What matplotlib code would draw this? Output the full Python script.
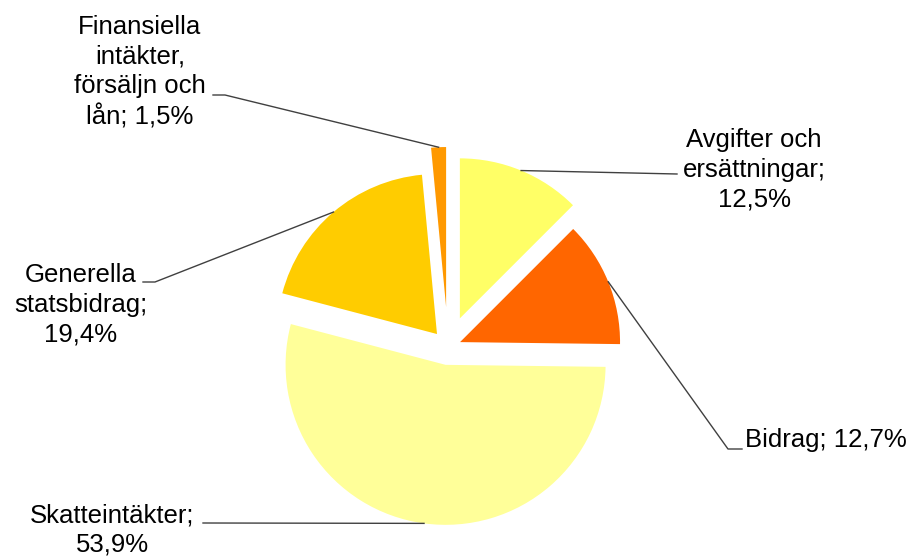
import math
import matplotlib
matplotlib.use("Agg")
import matplotlib.pyplot as plt

plt.rcParams["font.family"] = ["Liberation Sans", "DejaVu Sans"]

W, H = 916, 559

# data, clockwise from the top
labels = ["Avgifter och\nersättningar;\n12,5%", "Bidrag; 12,7%", "Skatteintäkter;\n53,9%",
          "Generella\nstatsbidrag;\n19,4%", "Finansiella\nintäkter,\nförsäljn och\nlån; 1,5%"]
shares = [12.5, 12.7, 53.9, 19.4, 1.5]
colors = ["#FFFF66", "#FF6600", "#FFFF99", "#FFCC00", "#FF9900"]
explode = [31, 13, 18, 17, 40]

fig = plt.figure(figsize=(W / 100, H / 100), dpi=100)
ax = fig.add_axes([0, 0, 1, 1])


def py(y):
    return H - y


wedges, _ = ax.pie(shares, colors=colors, explode=explode, startangle=90, counterclock=False,
                   center=(448, py(347)), radius=160, frame=True,
                   wedgeprops=dict(linewidth=0))
ax.set_xlim(0, W)
ax.set_ylim(0, H)
ax.set_aspect("equal")
ax.axis("off")


def anchor(w):
    a = math.radians((w.theta1 + w.theta2) / 2)
    cx, cy = w.center
    return cx + w.r * math.cos(a), cy + w.r * math.sin(a)


# label text position, alignment, leader path (pixel coords, from text side)
label_pos = [(754, 170, "center"), (745, 440, "left"), (112, 530, "center"),
             (81, 305, "center"), (140, 72, "center")]
leaders = [[(677, 174)], [(742, 449), (728, 449)], [(203, 523)],
           [(143, 282), (155, 282)], [(213, 95), (225, 95)]]

lc = "#404040"
for w, lab, (tx, ty, ha), pts in zip(wedges, labels, label_pos, leaders):
    ax.text(tx, py(ty), lab, ha=ha, va="center", multialignment="center",
            fontsize=18.5, linespacing=1.3, color="black")
    ax_, ay_ = anchor(w)
    xs = [p[0] for p in pts] + [ax_]
    ys = [py(p[1]) for p in pts] + [ay_]
    ax.plot(xs, ys, color=lc, lw=1.0)

fig.savefig("out.png", dpi=100, facecolor="white")
